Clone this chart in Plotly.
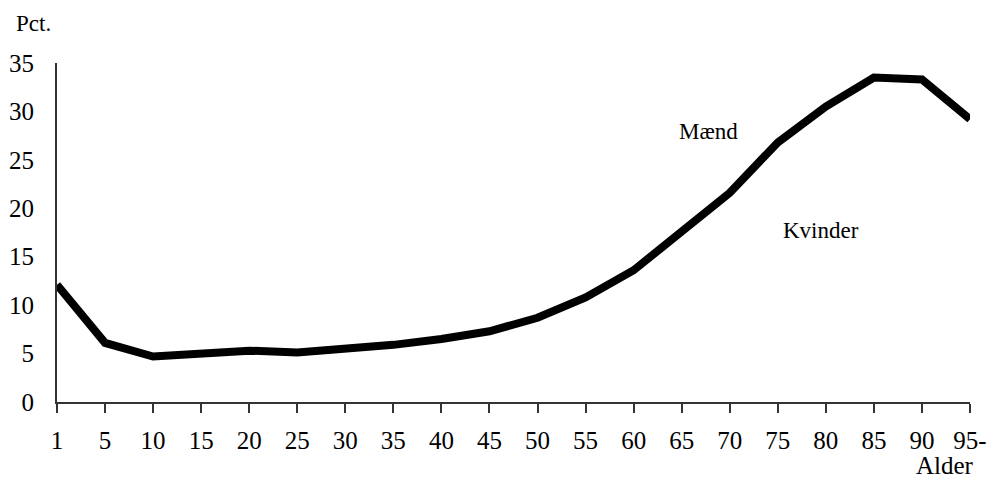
import plotly.graph_objects as go

ages = ["1", "5", "10", "15", "20", "25", "30", "35", "40", "45", "50",
        "55", "60", "65", "70", "75", "80", "85", "90", "95-"]
pct = [12.1, 6.1, 4.7, 5.0, 5.3, 5.1, 5.4, 5.9, 6.5, 7.3, 8.7,
       10.8, 13.6, 17.5, 21.6, 26.8, 30.5, 33.5, 33.3, 29.2]

y_ticks = [0, 5, 10, 15, 20, 25, 30, 35]

FONT = "Liberation Serif"

fig = go.Figure()
fig.add_trace(go.Scatter(
    x=ages, y=pct, mode="lines",
    line=dict(color="black", width=8),
    showlegend=False, hoverinfo="skip",
))

fig.update_layout(
    width=992, height=476,
    margin=dict(l=49, r=30, t=55, b=82),
    paper_bgcolor="white", plot_bgcolor="white",
    font=dict(family=FONT, size=25, color="black"),
    xaxis=dict(
        type="category", range=[0, len(ages) - 1],
        automargin=False,
        showgrid=False, zeroline=False,
        showline=True, linecolor="#333", linewidth=2,
        ticks="outside", ticklen=9, tickwidth=1.5, tickcolor="#333",
        ticklabelstandoff=6,
        tickfont=dict(family=FONT, size=25, color="black"),
    ),
    yaxis=dict(
        range=[0, 35], tickvals=y_ticks,
        automargin=False,
        showgrid=False, zeroline=False,
        showline=True, linecolor="#333", linewidth=2,
        ticks="", ticklabelstandoff=16,
        tickfont=dict(family=FONT, size=25, color="black"),
    ),
    annotations=[
        dict(text="Pct.", xref="paper", yref="paper", x=-0.047, y=1.16,
             xanchor="left", yanchor="top", showarrow=False,
             font=dict(family=FONT, size=23)),
        dict(text="Alder", xref="paper", yref="paper", x=0.973, y=-0.186,
             xanchor="center", yanchor="middle", showarrow=False,
             font=dict(family=FONT, size=25)),
        dict(text="Mænd", x=13.55, y=27.9, showarrow=False,
             font=dict(family=FONT, size=23)),
        dict(text="Kvinder", x=15.9, y=17.75, showarrow=False,
             font=dict(family=FONT, size=23)),
    ],
)

fig.write_html("out.html")
